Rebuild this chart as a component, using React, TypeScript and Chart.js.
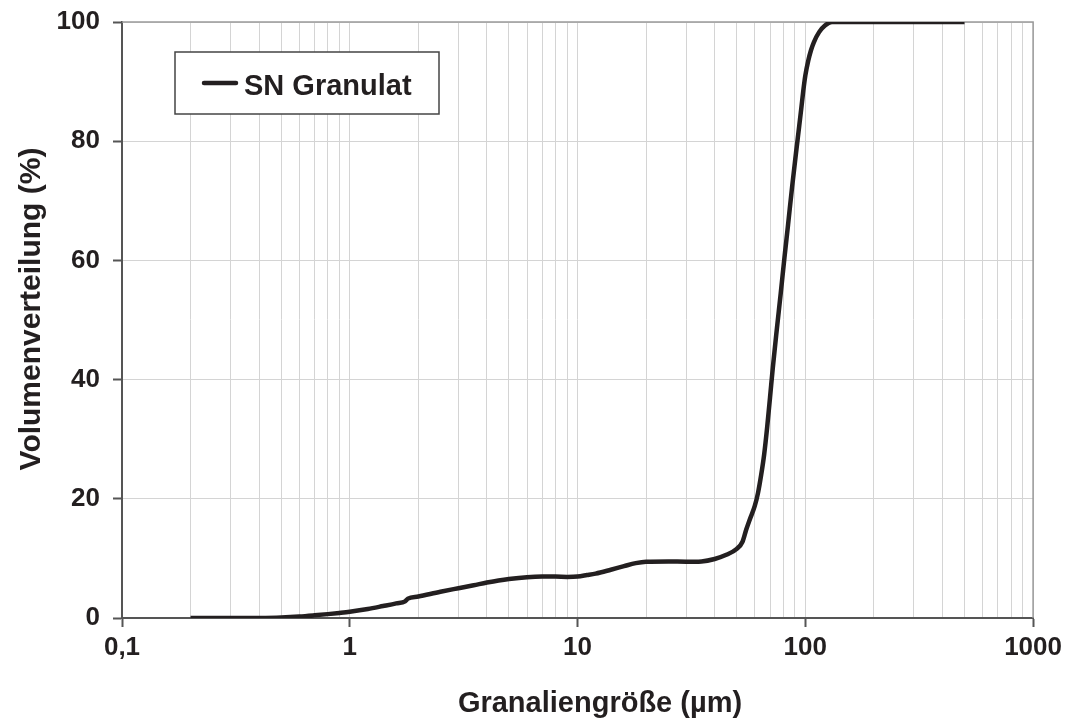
import React, { useEffect, useRef } from "react";
import { Chart, registerables } from "chart.js";

Chart.register(...registerables);

const seriesLabel = "SN Granulat";
const xTitle = "Granaliengröße (µm)";
const yTitle = "Volumenverteilung (%)";

// particle sizes (µm)
const sizes = [0.2, 0.3, 0.4, 0.5, 0.6, 0.7, 0.8, 0.9, 1.0, 1.2, 1.4, 1.6, 1.75, 1.8, 2.0, 2.5, 3.0, 3.5, 4.0, 4.5, 5.0, 6.0, 7.0, 8.0, 9.0, 10, 11, 12, 14, 16, 18, 20, 25, 30, 35, 40, 45, 50, 53, 55, 57, 60, 62, 64, 66, 68, 70, 72, 75, 78, 81, 84, 87.5, 91, 94, 96, 98, 100, 103, 106, 109, 115, 122, 131, 150, 200, 300, 500];
// cumulative volume (%)
const volumes = [0, 0, 0.02, 0.1, 0.25, 0.45, 0.65, 0.85, 1.05, 1.5, 2.0, 2.45, 2.8, 3.25, 3.6, 4.4, 5.0, 5.5, 5.95, 6.3, 6.55, 6.85, 6.95, 6.95, 6.9, 6.95, 7.2, 7.45, 8.1, 8.7, 9.2, 9.45, 9.5, 9.45, 9.5, 9.9, 10.6, 11.6, 12.8, 14.8, 16.5, 18.8, 21, 24, 27.5, 32, 37, 42, 48.5, 54.5, 60.5, 66, 72.3, 78, 82.5, 85.5, 88.5, 91, 93.5, 95.3, 96.6, 98.3, 99.4, 100, 100, 100, 100, 100];

const xMajorTicks = [0.1, 1, 10, 100, 1000];
const xTickLabels = ["0,1", "1", "10", "100", "1000"];
const xMinorMultipliers = [1, 2, 3, 4, 5, 6, 7, 8, 9];
const yTicks = [0, 20, 40, 60, 80, 100];

const FONT = '"Liberation Sans", Arial, Helvetica, sans-serif';
const INK = "#231f20";
const AXIS = "#555555";

function majorIndex(v: number) {
  return xMajorTicks.findIndex((m) => Math.abs(v - m) / m < 1e-6);
}

export default function App() {
  const ref = useRef<HTMLCanvasElement | null>(null);

  useEffect(() => {
    if (!ref.current) return;
    const gridValues: number[] = [];
    for (let d = 0; d < xMajorTicks.length - 1; d++) {
      for (const m of xMinorMultipliers) gridValues.push(+(xMajorTicks[d] * m).toPrecision(6));
    }
    gridValues.push(xMajorTicks[xMajorTicks.length - 1]);

    const framePlugin = {
      id: "frame",
      beforeDatasetsDraw(chart: any) {
        const { ctx, chartArea } = chart;
        ctx.save();
        ctx.strokeStyle = "#9a9a9a";
        ctx.lineWidth = 1.5;
        ctx.beginPath();
        ctx.moveTo(chartArea.left, chartArea.top);
        ctx.lineTo(chartArea.right, chartArea.top);
        ctx.lineTo(chartArea.right, chartArea.bottom);
        ctx.stroke();
        ctx.restore();
      },
      afterDraw(chart: any) {
        const { ctx } = chart;
        ctx.save();
        // axis titles
        ctx.fillStyle = INK;
        ctx.font = `bold 29px ${FONT}`;
        ctx.textAlign = "center";
        ctx.textBaseline = "alphabetic";
        ctx.fillText(xTitle, 600, 712);
        ctx.save();
        ctx.translate(40, 309);
        ctx.rotate(-Math.PI / 2);
        ctx.font = `bold 30px ${FONT}`;
        ctx.fillText(yTitle, 0, 0);
        ctx.restore();
        // legend
        const bx = 175, by = 52, bw = 264, bh = 62;
        ctx.fillStyle = "#ffffff";
        ctx.fillRect(bx, by, bw, bh);
        ctx.strokeStyle = "#444444";
        ctx.lineWidth = 1.5;
        ctx.strokeRect(bx, by, bw, bh);
        ctx.strokeStyle = INK;
        ctx.lineWidth = 4.5;
        ctx.lineCap = "round";
        ctx.beginPath();
        ctx.moveTo(204, 83);
        ctx.lineTo(236, 83);
        ctx.stroke();
        ctx.fillStyle = INK;
        ctx.font = `bold 29px ${FONT}`;
        ctx.textAlign = "left";
        ctx.fillText(chart.data.datasets[0].label, 244, 95);
        ctx.restore();
      },
    };

    const chart = new Chart(ref.current, {
      type: "line",
      data: {
        datasets: [
          {
            label: seriesLabel,
            data: sizes.map((x, i) => ({ x, y: volumes[i] })),
            borderColor: INK,
            borderWidth: 4.5,
            pointRadius: 0,
            cubicInterpolationMode: "monotone",
            fill: false,
          },
        ],
      },
      options: {
        animation: false,
        responsive: false,
        layout: { padding: { left: 9, right: 32, top: 22, bottom: 3 } },
        plugins: {
          legend: { display: false },
          tooltip: { enabled: false },
        },
        scales: {
          x: {
            type: "logarithmic",
            min: 0.1,
            max: 1000,
            afterBuildTicks: (scale: any) => {
              scale.ticks = gridValues.map((v) => ({ value: v, major: majorIndex(v) >= 0 }));
            },
            afterFit: (scale: any) => {
              scale.height = 99;
            },
            ticks: {
              autoSkip: false,
              maxRotation: 0,
              minRotation: 0,
              padding: 5,
              color: INK,
              font: { family: FONT, size: 26, weight: "bold" },
              callback: (value: any) => {
                const idx = majorIndex(Number(value));
                return idx >= 0 ? xTickLabels[idx] : "";
              },
            },
            grid: {
              color: "#d4d4d4",
              lineWidth: 1,
              tickLength: 9,
              tickWidth: 2,
              tickColor: (ctx: any) => (ctx.tick && majorIndex(ctx.tick.value) >= 0 ? AXIS : "rgba(0,0,0,0)"),
            },
            border: { display: true, color: AXIS, width: 2 },
            title: { display: false, text: xTitle },
          },
          y: {
            type: "linear",
            min: 0,
            max: 100,
            afterBuildTicks: (scale: any) => {
              scale.ticks = yTicks.map((v) => ({ value: v }));
            },
            afterFit: (scale: any) => {
              scale.width = 113;
            },
            ticks: {
              padding: 13,
              color: INK,
              font: { family: FONT, size: 26, weight: "bold", lineHeight: 0.65 },
            },
            grid: {
              color: "#d4d4d4",
              lineWidth: 1,
              tickLength: 9,
              tickWidth: 2,
              tickColor: AXIS,
            },
            border: { display: true, color: AXIS, width: 2 },
            title: { display: false, text: yTitle },
          },
        },
      },
      plugins: [framePlugin],
    } as any);

    return () => chart.destroy();
  }, []);

  return (
    <div style={{ position: "fixed", left: 0, top: 0, width: 1067, height: 720, background: "#fff" }}>
      <canvas ref={ref} width={1067} height={720} style={{ width: 1067, height: 720, display: "block" }} />
    </div>
  );
}
